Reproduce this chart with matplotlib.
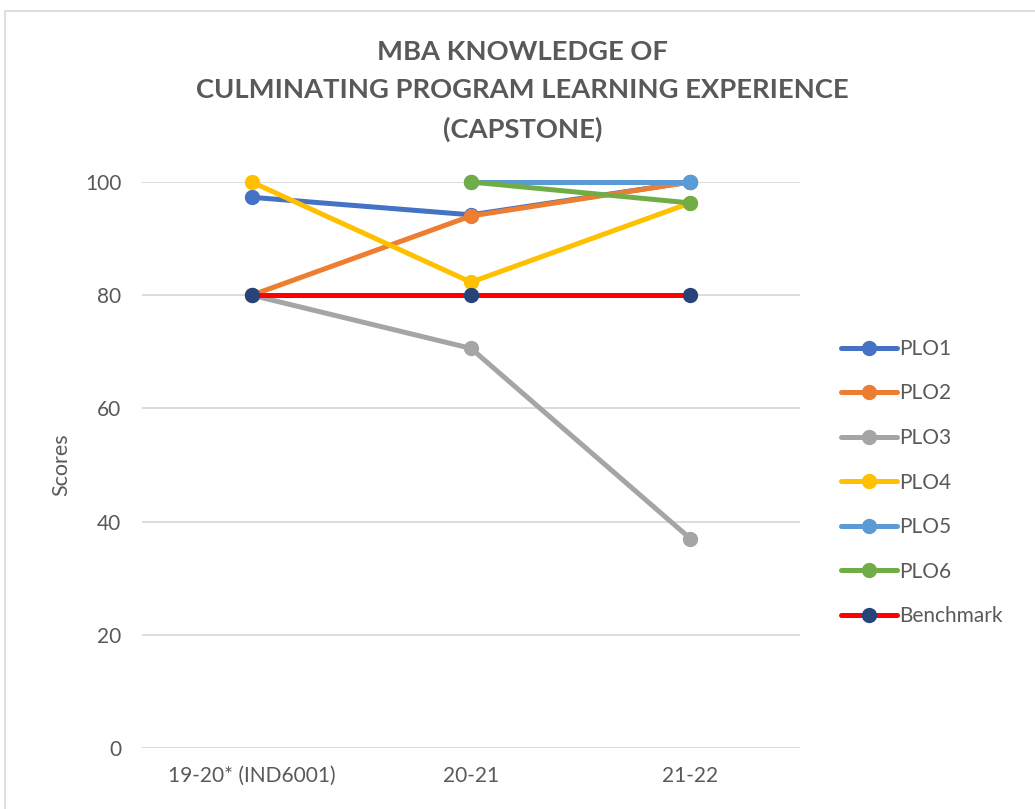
import numpy as np
import matplotlib.pyplot as plt
from matplotlib.patches import Rectangle

years = ['19-20* (IND6001)', '20-21', '21-22']
plo1 = [97.3, 94.2, 100]
plo2 = [80, 94.0, 100]
plo3 = [80, 70.6, 37.0]
plo4 = [100, 82.3, 96.3]
plo5 = [np.nan, 100, 100]
plo6 = [np.nan, 100, 96.3]
benchmark = [80, 80, 80]

series = [
    ('PLO1', plo1, '#4472C4', '#4472C4'),
    ('PLO2', plo2, '#ED7D31', '#ED7D31'),
    ('PLO3', plo3, '#A5A5A5', '#A5A5A5'),
    ('PLO4', plo4, '#FFC000', '#FFC000'),
    ('PLO5', plo5, '#5B9BD5', '#5B9BD5'),
    ('PLO6', plo6, '#70AD47', '#70AD47'),
    ('Benchmark', benchmark, '#FF0000', '#264478'),
]

plt.rcParams['font.family'] = ['Lato', 'DejaVu Sans']
text_color = '#595959'

fig = plt.figure(figsize=(10.35, 8.09), dpi=100)
fig.patches.append(Rectangle((5 / 1035, -0.1), 1.2, 1 - 11 / 809 + 0.1,
                             transform=fig.transFigure, fill=False,
                             edgecolor='#D9D9D9', linewidth=1.2))

ax = fig.add_axes([142 / 1035, 1 - 748 / 809, 658 / 1035, 566 / 809])
x = np.arange(len(years))
for name, vals, col, mcol in series:
    ax.plot(x, vals, color=col, linewidth=3.6, marker='o', markersize=10,
            markerfacecolor=mcol, markeredgecolor=mcol, label=name,
            clip_on=False, solid_capstyle='round')

ax.set_xlim(-0.5, 2.5)
ax.set_ylim(0, 100)
ax.set_yticks(range(0, 101, 20))
ax.set_xticks(x)
ax.set_xticklabels(years)
ax.tick_params(length=0, labelsize=15, labelcolor=text_color, pad=13)
ax.tick_params(axis='y', pad=15)
ax.grid(axis='y', color='#D9D9D9', linewidth=1.3)
ax.set_axisbelow(True)
for s in ax.spines.values():
    s.set_visible(False)
ax.set_ylabel('Scores', fontsize=15.5, color=text_color, labelpad=10)

fig.text(0.505, 1 - 91 / 809,
         'MBA KNOWLEDGE OF\nCULMINATING PROGRAM LEARNING EXPERIENCE\n(CAPSTONE)',
         ha='center', va='center', fontsize=19.7, fontweight='bold',
         color=text_color, linespacing=1.7)

ax.legend(loc='center left', bbox_to_anchor=(1.05, 0.469), frameon=False,
          fontsize=15, labelcolor=text_color, handlelength=2.7,
          handletextpad=0.1, labelspacing=1.18, borderaxespad=0)

fig.savefig('out.png', dpi=100)
